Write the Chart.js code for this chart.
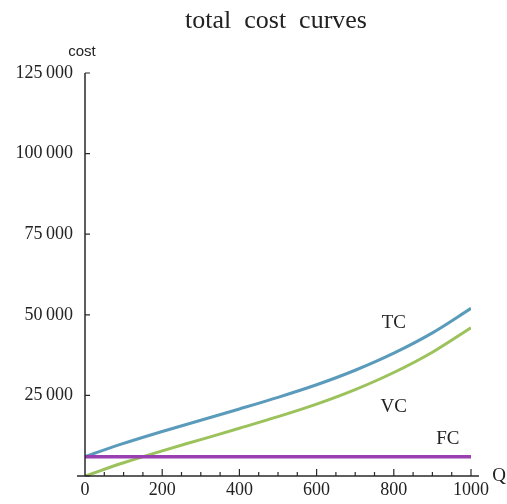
<!DOCTYPE html>
<html lang="en">
<head>
  <meta charset="UTF-8" />
  <title>total cost curves</title>
  <script src="https://cdn.jsdelivr.net/npm/chart.js"></script>
  <style>
    html, body { margin: 0; padding: 0; background: #fff; }
    .wrap { width: 507px; height: 504px; position: relative; }
  </style>
</head>
<body>
  <div class="wrap"><canvas id="costChart" width="507" height="504"></canvas></div>

  <script>
    // values
    const quantity = [0, 100, 200, 300, 400, 500, 600, 700, 800, 900, 1000];
    const tcValues = [6000, 10100, 13800, 17300, 20800, 24400, 28300, 32800, 38100, 44400, 52000];
    const vcValues = [0, 4100, 7800, 11300, 14800, 18400, 22300, 26800, 32100, 38400, 46000];
    const fcValues = [6000, 6000, 6000, 6000, 6000, 6000, 6000, 6000, 6000, 6000, 6000];
    const yTicks = [0, 25000, 50000, 75000, 100000, 125000];
    const xTicks = [0, 200, 400, 600, 800, 1000];
    const curveLabels = [
      { text: 'TC', q: 800, v: 47400 },
      { text: 'VC', q: 800, v: 21400 },
      { text: 'FC', q: 940, v: 11400 }
    ];

    const serif = "'Liberation Serif', 'DejaVu Serif', serif";

    const toPoints = vals => quantity.map((q, i) => ({ x: q, y: vals[i] }));

    // axes crossing at the origin, ticks pointing inwards, and the text labels
    const axesPlugin = {
      id: 'mathAxes',
      afterDatasetsDraw(chart) {
        const { ctx, chartArea, scales } = chart;
        const x0 = scales.x.getPixelForValue(0);
        const y0 = scales.y.getPixelForValue(0);
        ctx.save();
        ctx.strokeStyle = '#2a2a2a';
        ctx.lineWidth = 1.5;
        ctx.beginPath();
        ctx.moveTo(x0 - 8, y0);
        ctx.lineTo(chartArea.right + 8, y0);
        ctx.moveTo(x0, y0);
        ctx.lineTo(x0, scales.y.getPixelForValue(125000));
        ctx.stroke();

        ctx.lineWidth = 1.2;
        ctx.beginPath();
        yTicks.forEach(v => {
          const py = scales.y.getPixelForValue(v);
          ctx.moveTo(x0, py);
          ctx.lineTo(x0 + 5, py);
        });
        for (let q = 50; q <= 1000; q += 50) {
          const px = scales.x.getPixelForValue(q);
          ctx.moveTo(px, y0);
          ctx.lineTo(px, y0 - (q % 200 === 0 ? 7 : 4));
        }
        ctx.stroke();

        ctx.fillStyle = '#222';
        ctx.font = '19px ' + serif;
        ctx.textAlign = 'center';
        ctx.textBaseline = 'middle';
        curveLabels.forEach(l => {
          ctx.fillText(l.text, scales.x.getPixelForValue(l.q), scales.y.getPixelForValue(l.v));
        });
        ctx.fillText('Q', chartArea.right + 28, y0);

        ctx.font = "15px 'Liberation Sans', Arial, sans-serif";
        ctx.fillText('cost', x0 - 3, chartArea.top - 21);

        ctx.font = '26px ' + serif;
        ctx.fillText('total  cost  curves', 276, 21);
        ctx.restore();
      }
    };

    new Chart(document.getElementById('costChart'), {
      type: 'line',
      data: {
        datasets: [
          { label: 'FC', data: toPoints(fcValues), borderColor: '#9a3fb2', borderWidth: 3.5 },
          { label: 'VC', data: toPoints(vcValues), borderColor: '#9cc25c', borderWidth: 3 },
          { label: 'TC', data: toPoints(tcValues), borderColor: '#5a9bbb', borderWidth: 3 }
        ]
      },
      options: {
        responsive: false,
        animation: false,
        layout: { padding: { left: 0, right: 36, top: 73, bottom: 0 } },
        elements: {
          point: { radius: 0 },
          line: { tension: 0.4, cubicInterpolationMode: 'monotone', fill: false }
        },
        plugins: { legend: { display: false }, tooltip: { enabled: false } },
        scales: {
          x: {
            type: 'linear',
            min: 0,
            max: 1000,
            afterFit: s => { s.height = 28; },
            afterBuildTicks: s => { s.ticks = xTicks.map(v => ({ value: v })); },
            border: { display: false },
            grid: { display: false, drawTicks: false },
            ticks: {
              color: '#222',
              padding: 3,
              maxRotation: 0,
              font: { family: serif, size: 18 },
              callback: v => String(v)
            }
          },
          y: {
            min: 0,
            max: 125000,
            afterFit: s => { s.width = 85; },
            afterBuildTicks: s => { s.ticks = yTicks.map(v => ({ value: v })); },
            border: { display: false },
            grid: { display: false, drawTicks: false },
            ticks: {
              color: '#222',
              padding: 12,
              font: { family: serif, size: 18 },
              callback: v => v === 0 ? '' : String(v).replace(/\B(?=(\d{3})+(?!\d))/g, '\u2009')
            }
          }
        }
      },
      plugins: [axesPlugin]
    });
  </script>
</body>
</html>
